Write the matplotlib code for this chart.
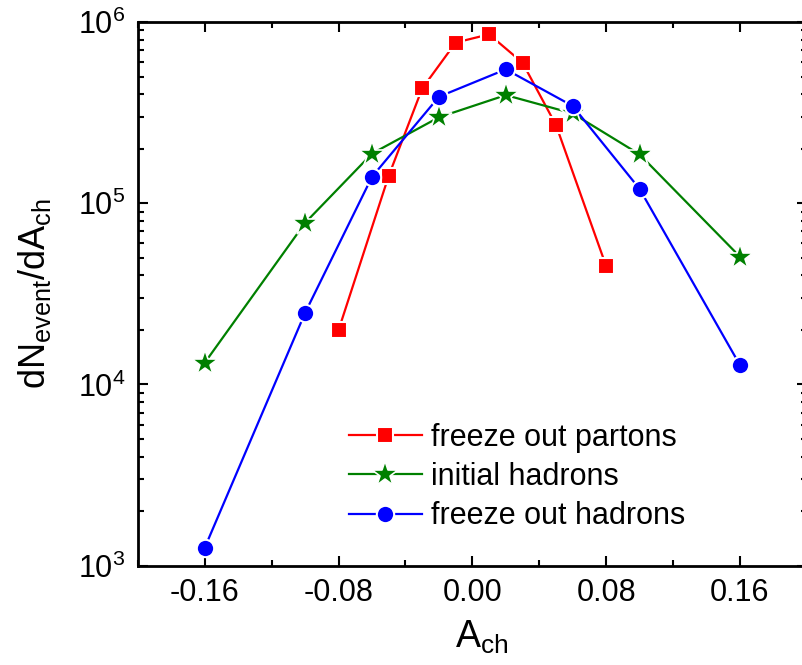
import numpy as np
import matplotlib
matplotlib.use("Agg")
import matplotlib.pyplot as plt
from matplotlib.ticker import MultipleLocator, LogLocator

plt.rcParams['font.family'] = ['Liberation Sans', 'DejaVu Sans']
plt.rcParams['mathtext.fontset'] = 'custom'
plt.rcParams['mathtext.rm'] = 'Liberation Sans'
plt.rcParams['mathtext.it'] = 'Liberation Sans:italic'

# freeze out partons
x_partons = [-0.08, -0.05, -0.03, -0.01, 0.01, 0.03, 0.05, 0.08]
y_partons = [2.0e4, 1.42e5, 4.3e5, 7.7e5, 8.55e5, 5.96e5, 2.7e5, 4.5e4]

# initial hadrons
x_init = [-0.16, -0.10, -0.06, -0.02, 0.02, 0.06, 0.10, 0.16]
y_init = [1.32e4, 7.8e4, 1.88e5, 2.98e5, 3.95e5, 3.13e5, 1.86e5, 5.07e4]

# freeze out hadrons
x_final = [-0.16, -0.10, -0.06, -0.02, 0.02, 0.06, 0.10, 0.16]
y_final = [1.26e3, 2.49e4, 1.4e5, 3.87e5, 5.48e5, 3.44e5, 1.2e5, 1.28e4]

fig = plt.figure(figsize=(8.02, 6.65), dpi=100)
ax = fig.add_axes([0.172, 0.1493, 0.834, 0.8176])

ax.plot(x_partons, y_partons, '-s', color='#ff0000', lw=1.6, ms=11,
        mec='white', mew=1.5, label='freeze out partons')
ax.plot(x_init, y_init, '-*', color='#008000', lw=1.6, ms=19,
        mec='white', mew=1.2, label='initial hadrons')
ax.plot(x_final, y_final, '-o', color='#0000ff', lw=1.6, ms=12.5,
        mec='white', mew=1.5, label='freeze out hadrons')

ax.set_yscale('log')
ax.set_xlim(-0.2, 0.2)
ax.set_ylim(1e3, 1e6)
ax.xaxis.set_minor_locator(MultipleLocator(0.04))
ax.set_xticks([-0.16, -0.08, 0.0, 0.08, 0.16])
ax.set_xticklabels(['-0.16', '-0.08', '0.00', '0.08', '0.16'])
ax.yaxis.set_minor_locator(LogLocator(base=10, subs=np.arange(2, 10)))

for s in ax.spines.values():
    s.set_linewidth(2)
ax.tick_params(which='both', direction='in', top=True, right=True,
               labelsize=22, width=1.5)
ax.tick_params(which='major', length=7.5, pad=9)
ax.tick_params(which='minor', length=4.5)

ax.set_xlabel(r'A$_{\mathrm{ch}}$', fontsize=27)
ax.xaxis.set_label_coords(0.514, -0.098)
ax.xaxis.label.set_va('top')
ax.set_ylabel(r'dN$_{\mathrm{event}}$/dA$_{\mathrm{ch}}$', fontsize=26, labelpad=18)

ax.legend(loc='center', bbox_to_anchor=(0.567, 0.163), frameon=False,
          fontsize=22, handlelength=2.4, handletextpad=0.3, labelspacing=0.3,
          borderpad=0.2)

fig.savefig('out.png', dpi=100)
